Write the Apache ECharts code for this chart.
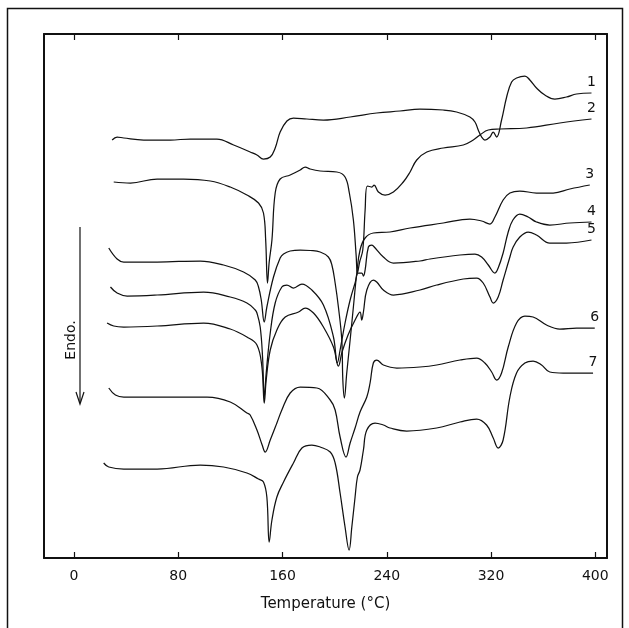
<!DOCTYPE html>
<html>
<head>
<meta charset="utf-8">
<script src="https://cdn.jsdelivr.net/npm/echarts@6/dist/echarts.min.js"></script>
<style>
html,body{margin:0;padding:0;background:#fff;}
#chart{width:629px;height:628px;}
</style>
</head>
<body>
<div id="chart"></div>
<script>
// Temperature (°C) vs heat flow (arbitrary units, curves offset vertically)
const xTicks = [0, 80, 160, 240, 320, 400];
const curveLabels = ['1', '2', '3', '4', '5', '6', '7'];

const curve1 = [[29.3,418],[33.1,421],[38.2,420],[53.5,418],[73.9,418],[89.3,419],[109.7,419],[122.5,413],[135.2,406],[140.4,403],[145.4,399],[150.6,401],[154.4,410],[158.2,426],[163.4,437],[168.4,440],[178.7,439],[191.4,438],[211.9,441],[232.3,445],[250.2,447],[265.5,449],[283.4,448],[293.6,446],[303.8,441],[307.7,436],[310.2,428],[312.8,421],[315.3,418],[319.2,421],[321.7,426],[324.3,421],[328.1,438],[332.0,461],[335.8,476],[339.6,480],[346.0,482],[349.8,478],[354.9,470],[361.3,463],[369.0,459],[377.9,461],[385.6,464],[397.1,465]];

const curve2 = [[30.5,376],[43.3,375],[63.8,379],[84.1,379],[104.6,377],[119.9,371],[132.7,363],[141.6,355],[145.4,345],[147.1,318],[148.5,275],[149.8,296],[151.9,318],[154.4,365],[158.2,379],[165.9,383],[173.6,388],[177.4,391],[181.2,389],[188.9,387],[201.7,386],[208.0,381],[211.3,365],[214.4,338],[216.5,303],[217.5,285],[219.2,296],[221.6,308],[223.4,348],[225.1,372],[228.5,371],[230.3,373],[233.6,366],[238.7,363],[245.1,366],[252.7,376],[257.9,386],[263.0,398],[270.7,406],[283.4,410],[298.7,413],[306.4,418],[311.5,423],[317.9,428],[326.8,429],[347.3,430],[372.8,435],[397.1,439]];

const curve3 = [[26.7,310],[33.1,299],[38.2,296],[63.8,296],[96.9,297],[114.8,293],[130.1,286],[139.1,278],[141.6,271],[143.7,258],[146.0,236],[148.0,251],[153.1,281],[158.2,300],[160.8,304],[165.9,307],[173.6,308],[181.2,307.5],[188.9,306],[195.2,301],[197.9,293],[200.4,275],[202.9,251],[205.5,218],[206.3,178],[207.5,160],[209.3,185],[211.9,218],[214.4,251],[217.0,285],[219.5,308],[223.4,320],[229.7,325],[242.5,326],[257.9,330],[283.4,335],[303.8,339],[312.8,337],[319.2,334],[323.0,341],[329.3,358],[334.5,365],[342.1,367],[354.9,365],[367.7,365],[380.5,369],[395.8,373]];

const curve4 = [[28.0,271],[33.1,265],[40.8,262],[63.8,263],[99.5,266],[119.9,261],[132.7,255],[139.1,248],[140.4,245],[142.9,231],[144.7,201],[146.0,161],[147.5,185],[150.6,225],[154.4,255],[159.5,271],[163.4,273],[168.4,270],[174.9,274],[182.5,268],[191.4,253],[199.1,221],[202.1,195],[204.2,208],[208.0,235],[211.9,258],[215.7,275],[218.2,285],[220.8,285],[222.1,282],[223.4,288],[225.9,311],[228.5,313],[229.7,312],[237.4,301],[245.1,295],[265.5,297],[273.2,299],[296.2,303],[307.7,304],[312.8,301],[317.9,293],[323.0,285],[325.5,290],[329.3,305],[333.0,325],[336.8,338],[342.1,344],[348.5,341],[354.9,336],[365.1,333],[380.5,335],[397.1,336]];

const curve5 = [[25.4,235],[30.5,232],[38.2,231],[63.8,232],[99.5,235],[119.9,229],[132.7,221],[140.4,213],[144.2,191],[146.0,155],[147.5,178],[150.6,208],[155.7,228],[162.1,241],[172.3,246],[177.4,250],[183.8,245],[191.4,231],[199.1,211],[202.9,192],[205.7,206],[210.3,223],[215.7,238],[219.5,246],[220.8,238],[222.1,246],[224.7,268],[229.7,278],[232.3,276],[237.4,268],[245.1,263],[265.5,268],[278.3,273],[298.7,279],[309.0,280],[314.0,275],[319.2,261],[321.7,255],[325.5,261],[329.3,278],[334.5,301],[337.0,311],[342.1,321],[348.5,326],[354.9,323],[365.1,315],[377.9,315],[397.1,318]];

const curve6 = [[26.7,170],[31.8,163],[38.2,161],[63.8,161],[102.1,161],[119.9,156],[132.7,145],[135.2,143],[140.4,128],[144.4,113],[146.7,106],[150.6,118],[155.7,135],[159.5,148],[165.9,165],[173.6,171],[186.4,170],[196.6,158],[200.4,148],[204.2,121],[208.8,101],[211.9,115],[215.7,130],[219.5,146],[224.7,161],[227.2,175],[229.7,195],[232.3,198],[237.4,193],[247.7,190],[265.5,191],[278.3,193],[296.2,198],[309.0,200],[315.3,195],[320.5,186],[324.3,178],[328.1,185],[333.2,211],[339.6,235],[346.0,242],[352.3,241],[362.6,233],[372.8,229],[385.6,230],[399.6,230]];

const curve7 = [[22.8,95],[26.7,91],[38.2,89],[63.8,89],[96.9,93],[114.8,91],[132.7,85],[141.6,79],[145.4,76],[148.0,61],[149.8,16],[151.9,38],[155.7,61],[160.8,76],[168.4,95],[174.9,110],[182.5,113],[188.9,111],[196.6,106],[200.4,95],[204.2,65],[208.0,31],[211.1,8],[213.2,31],[215.7,61],[217.5,81],[219.5,88],[222.1,108],[224.7,128],[231.0,135],[237.4,133],[242.5,130],[255.3,127],[278.3,130],[296.2,136],[309.0,139],[316.6,133],[321.7,120],[325.5,110],[329.3,118],[334.5,161],[339.6,185],[346.0,195],[352.3,197],[358.8,193],[365.1,186],[375.3,185],[398.3,185]];

const curves = [curve1, curve2, curve3, curve4, curve5, curve6, curve7];

const FONT = 'DejaVu Sans';
const chart = echarts.init(document.getElementById('chart'), null, {renderer: 'canvas'});

const series = curves.map((c, i) => ({
  type: 'line',
  name: curveLabels[i],
  xAxisIndex: 0,
  yAxisIndex: 0,
  showSymbol: false,
  symbol: 'none',
  smooth: 0.4,
  lineStyle: {color: '#111', width: 1.25},
  data: c,
  markPoint: {
    silent: true,
    symbol: 'circle',
    symbolSize: 0,
    itemStyle: {color: 'rgba(0,0,0,0)'},
    label: {show: true, position: 'top', distance: 4, color: '#111', fontFamily: FONT, fontSize: 14,
            formatter: curveLabels[i]},
    data: [{coord: c[c.length - 1]}]
  },
  animation: false,
  z: 3
}));

const axisCommon = {
  type: 'value', min: -23, max: 409,
  splitLine: {show: false},
  axisLine: {show: true, onZero: false, lineStyle: {color: '#111', width: 2}}
};

chart.setOption({
  backgroundColor: '#fff',
  animation: false,
  grid: {left: 44, right: 22, top: 34, bottom: 70, containLabel: false},
  xAxis: [
    Object.assign({}, axisCommon, {
      position: 'bottom',
      name: 'Temperature (°C)',
      nameLocation: 'middle',
      nameGap: 39,
      nameTextStyle: {color: '#111', fontFamily: FONT, fontSize: 15},
      axisTick: {show: true, inside: true, length: 6, customValues: xTicks, lineStyle: {color: '#111', width: 1.2}},
      axisLabel: {show: true, customValues: xTicks, margin: 11, color: '#111', fontFamily: FONT, fontSize: 14}
    }),
    Object.assign({}, axisCommon, {
      position: 'top',
      axisTick: {show: true, inside: true, length: 6, customValues: xTicks, lineStyle: {color: '#111', width: 1.2}},
      axisLabel: {show: false}
    })
  ],
  yAxis: [
    {type: 'value', min: 0, max: 524, position: 'left', splitLine: {show: false},
     axisLine: {show: true, onZero: false, lineStyle: {color: '#111', width: 2}},
     axisTick: {show: false}, axisLabel: {show: false}},
    {type: 'value', min: 0, max: 524, position: 'right', splitLine: {show: false},
     axisLine: {show: true, onZero: false, lineStyle: {color: '#111', width: 2}},
     axisTick: {show: false}, axisLabel: {show: false}}
  ],
  graphic: [
    {type: 'rect', shape: {x: 7.5, y: 8.5, width: 615, height: 640},
     style: {fill: null, stroke: '#111', lineWidth: 1.5}, silent: true, z: 10},
    {type: 'line', shape: {x1: 80, y1: 227, x2: 80, y2: 403},
     style: {stroke: '#111', lineWidth: 1.2}, silent: true, z: 10},
    {type: 'polyline', shape: {points: [[76, 392], [80, 404], [84, 392]]},
     style: {stroke: '#111', lineWidth: 1.2, fill: null}, silent: true, z: 10},
    {type: 'text', x: 71, y: 340, rotation: Math.PI / 2,
     style: {text: 'Endo.', fill: '#111', font: '14px "DejaVu Sans"', align: 'center', verticalAlign: 'middle'},
     silent: true, z: 10}
  ],
  series: series
});
</script>
</body>
</html>
